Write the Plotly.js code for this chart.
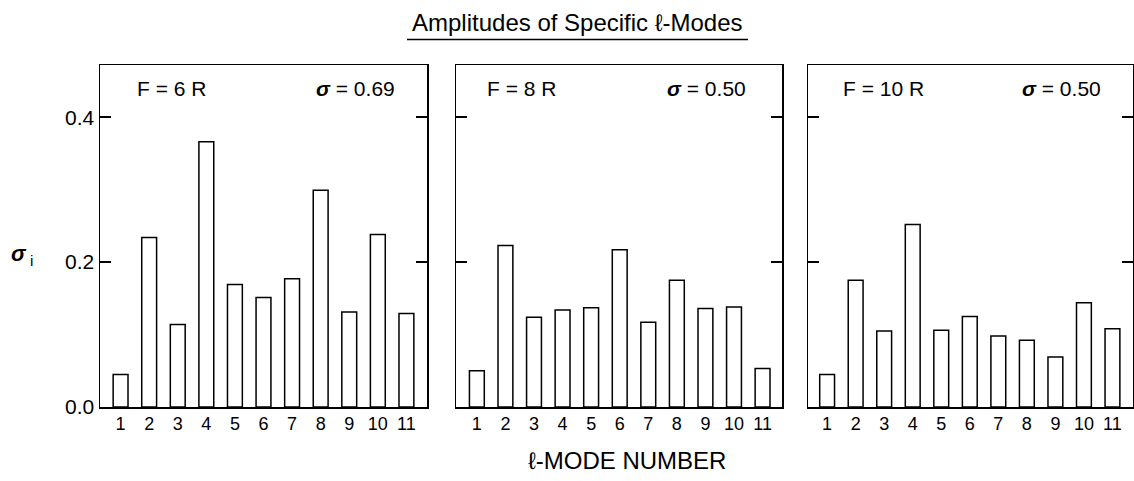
<!DOCTYPE html>
<html>
<head>
<meta charset="utf-8">
<script src="https://cdn.plot.ly/plotly-3.0.1.min.js"></script>
<style>html,body{margin:0;padding:0;background:#fff;}#chart{width:1134px;height:481px;}</style>
</head>
<body>
<div id="chart"></div>
<script>
const modes = [1, 2, 3, 4, 5, 6, 7, 8, 9, 10, 11];
const tickLabels = ['1','2','3','4','5','6','7','8','9','10','11'];
const ampF6 = [0.045, 0.234, 0.114, 0.366, 0.169, 0.151, 0.177, 0.299, 0.131, 0.238, 0.129];
const ampF8 = [0.050, 0.223, 0.124, 0.134, 0.137, 0.217, 0.117, 0.175, 0.136, 0.138, 0.053];
const ampF10 = [0.045, 0.175, 0.105, 0.252, 0.106, 0.125, 0.098, 0.092, 0.069, 0.144, 0.108];
const panelLabels = ['F = 6 R', 'F = 8 R', 'F = 10 R'];
const sigmaLabels = ['0.69', '0.50', '0.50'];
const yTicks = [0.0, 0.2, 0.4];

const FONT = '"Liberation Sans", Arial, Helvetica, sans-serif';
const W = 1134, H = 481;
const px = v => v / W;
const py = v => 1 - v / H;

const panels = [
  {l: 100, r: 427, xr: [0.28, 11.72], data: ampF6},
  {l: 456, r: 782, xr: [0.27, 11.68], data: ampF8},
  {l: 808, r: 1133, xr: [0.33, 11.72], data: ampF10}
];

const traces = panels.map((p, i) => ({
  type: 'bar',
  x: modes,
  y: p.data,
  xaxis: i === 0 ? 'x' : 'x' + (i + 1),
  yaxis: i === 0 ? 'y' : 'y' + (i + 1),
  width: 0.52,
  marker: {color: '#ffffff', line: {color: '#000000', width: 1.5}},
  hoverinfo: 'x+y',
  showlegend: false
}));

const layout = {
  width: W, height: H,
  margin: {l: 0, r: 0, t: 0, b: 0},
  paper_bgcolor: '#ffffff',
  plot_bgcolor: '#ffffff',
  font: {family: FONT, color: '#000000'},
  bargap: 0.48,
  annotations: [],
  shapes: [
    {type: 'line', xref: 'paper', yref: 'paper', x0: px(407), x1: px(748), y0: py(39.5), y1: py(39.5),
     line: {color: '#000000', width: 1.5}}
  ]
};

panels.forEach((p, i) => {
  const s = i === 0 ? '' : String(i + 1);
  layout['xaxis' + s] = {
    domain: [px(p.l), px(p.r)],
    range: p.xr,
    anchor: 'y' + s,
    tickmode: 'array',
    tickvals: modes,
    ticktext: tickLabels,
    ticks: '',
    showline: true,
    mirror: true,
    linecolor: '#000000',
    linewidth: 1.5,
    showgrid: false,
    zeroline: false,
    tickfont: {size: 18, family: FONT, color: '#000000'}
  };
  layout['yaxis' + s] = {
    domain: [py(407), py(65)],
    range: [0, 0.472],
    anchor: 'x' + s,
    tickmode: 'array',
    tickvals: yTicks,
    tickformat: '.1f',
    ticks: 'inside',
    ticklen: 11,
    tickwidth: 1.5,
    tickcolor: '#000000',
    showticklabels: i === 0,
    showline: true,
    mirror: 'ticks',
    linecolor: '#000000',
    linewidth: 1.5,
    showgrid: false,
    zeroline: false,
    tickfont: {size: 21, family: FONT, color: '#000000'}
  };
});

const fOff = [35, 29, 33];
const sOff = [30, 34, 30];
panels.forEach((p, i) => {
  layout.annotations.push({
    xref: 'paper', yref: 'paper', x: px(p.l + fOff[i]), y: py(88),
    xanchor: 'left', yanchor: 'middle', showarrow: false,
    text: panelLabels[i], font: {size: 21, family: FONT, color: '#000000'}
  });
  layout.annotations.push({
    xref: 'paper', yref: 'paper', x: px(p.r - sOff[i]), y: py(88),
    xanchor: 'right', yanchor: 'middle', showarrow: false,
    text: '<b><i>σ</i></b> = ' + sigmaLabels[i], font: {size: 21, family: FONT, color: '#000000'}
  });
});

layout.annotations.push({
  xref: 'paper', yref: 'paper', x: px(577), y: py(22),
  xanchor: 'center', yanchor: 'middle', showarrow: false,
  text: 'Amplitudes of Specific ℓ-Modes', font: {size: 24, family: FONT, color: '#000000'}
});
layout.annotations.push({
  xref: 'paper', yref: 'paper', x: px(627), y: py(460),
  xanchor: 'center', yanchor: 'middle', showarrow: false,
  text: 'ℓ-MODE NUMBER', font: {size: 24, family: FONT, color: '#000000'}
});
layout.annotations.push({
  xref: 'paper', yref: 'paper', x: px(22), y: py(255),
  xanchor: 'center', yanchor: 'middle', showarrow: false,
  text: '<b><i>σ</i></b><sub> i</sub>', font: {size: 22, family: FONT, color: '#000000'}
});

Plotly.newPlot('chart', traces, layout, {displayModeBar: false, staticPlot: true});
</script>
</body>
</html>
